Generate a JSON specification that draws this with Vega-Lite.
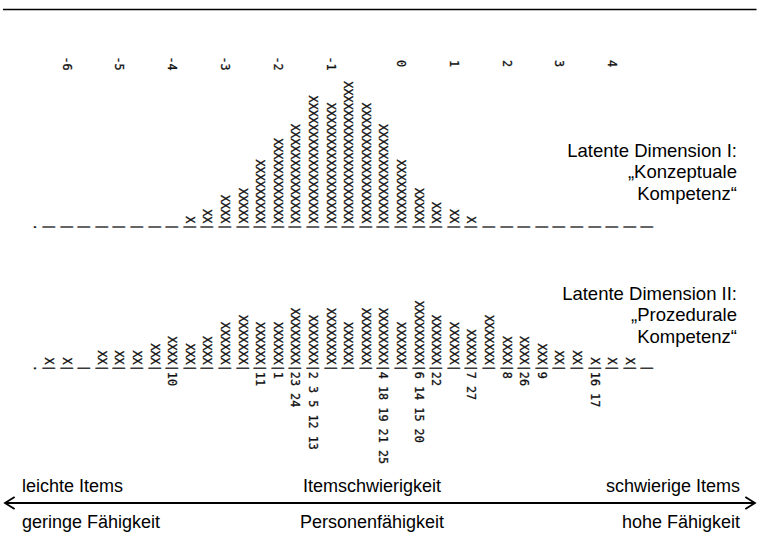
{
  "$schema": "https://vega.github.io/schema/vega-lite/v6.json",
  "width": 759,
  "height": 555,
  "padding": 0,
  "autosize": {"type": "fit", "contains": "padding"},
  "background": "white",
  "config": {"view": {"stroke": null}},
  "datasets": {
    "columns": [
      {"panel": "I", "col": -0.6, "persons": ".", "items": ""},
      {"panel": "I", "col": 0, "persons": "|", "items": ""},
      {"panel": "I", "col": 1, "persons": "|", "items": ""},
      {"panel": "I", "col": 2, "persons": "|", "items": ""},
      {"panel": "I", "col": 3, "persons": "|", "items": ""},
      {"panel": "I", "col": 4, "persons": "|", "items": ""},
      {"panel": "I", "col": 5, "persons": "|", "items": ""},
      {"panel": "I", "col": 6, "persons": "|", "items": ""},
      {"panel": "I", "col": 7, "persons": "|", "items": ""},
      {"panel": "I", "col": 8, "persons": "X|", "items": ""},
      {"panel": "I", "col": 9, "persons": "XX|", "items": ""},
      {"panel": "I", "col": 10, "persons": "XXXX|", "items": ""},
      {"panel": "I", "col": 11, "persons": "XXXXX|", "items": ""},
      {"panel": "I", "col": 12, "persons": "XXXXXXXXX|", "items": ""},
      {"panel": "I", "col": 13, "persons": "XXXXXXXXXXXX|", "items": ""},
      {"panel": "I", "col": 14, "persons": "XXXXXXXXXXXXXX|", "items": ""},
      {"panel": "I", "col": 15, "persons": "XXXXXXXXXXXXXXXXXX|", "items": ""},
      {"panel": "I", "col": 16, "persons": "XXXXXXXXXXXXXXXXX|", "items": ""},
      {"panel": "I", "col": 17, "persons": "XXXXXXXXXXXXXXXXXXXX|", "items": ""},
      {"panel": "I", "col": 18, "persons": "XXXXXXXXXXXXXXXXX|", "items": ""},
      {"panel": "I", "col": 19, "persons": "XXXXXXXXXXXXXX|", "items": ""},
      {"panel": "I", "col": 20, "persons": "XXXXXXXXX|", "items": ""},
      {"panel": "I", "col": 21, "persons": "XXXXX|", "items": ""},
      {"panel": "I", "col": 22, "persons": "XXX|", "items": ""},
      {"panel": "I", "col": 23, "persons": "XX|", "items": ""},
      {"panel": "I", "col": 24, "persons": "X|", "items": ""},
      {"panel": "I", "col": 25, "persons": "|", "items": ""},
      {"panel": "I", "col": 26, "persons": "|", "items": ""},
      {"panel": "I", "col": 27, "persons": "|", "items": ""},
      {"panel": "I", "col": 28, "persons": "|", "items": ""},
      {"panel": "I", "col": 29, "persons": "|", "items": ""},
      {"panel": "I", "col": 30, "persons": "|", "items": ""},
      {"panel": "I", "col": 31, "persons": "|", "items": ""},
      {"panel": "I", "col": 32, "persons": "|", "items": ""},
      {"panel": "I", "col": 33, "persons": "|", "items": ""},
      {"panel": "I", "col": 34, "persons": "|", "items": ""},
      {"panel": "II", "col": -0.6, "persons": ".", "items": ""},
      {"panel": "II", "col": 0, "persons": "X|", "items": ""},
      {"panel": "II", "col": 1, "persons": "X|", "items": ""},
      {"panel": "II", "col": 2, "persons": "|", "items": ""},
      {"panel": "II", "col": 3, "persons": "XX|", "items": ""},
      {"panel": "II", "col": 4, "persons": "XX|", "items": ""},
      {"panel": "II", "col": 5, "persons": "XX|", "items": ""},
      {"panel": "II", "col": 6, "persons": "XXX|", "items": ""},
      {"panel": "II", "col": 7, "persons": "XXXX|", "items": "10"},
      {"panel": "II", "col": 8, "persons": "XXX|", "items": ""},
      {"panel": "II", "col": 9, "persons": "XXXX|", "items": ""},
      {"panel": "II", "col": 10, "persons": "XXXXXX|", "items": ""},
      {"panel": "II", "col": 11, "persons": "XXXXXXX|", "items": ""},
      {"panel": "II", "col": 12, "persons": "XXXXXX|", "items": "11"},
      {"panel": "II", "col": 13, "persons": "XXXXXX|", "items": "1"},
      {"panel": "II", "col": 14, "persons": "XXXXXXXX|", "items": "23 24"},
      {"panel": "II", "col": 15, "persons": "XXXXXXX|", "items": "2 3 5 12 13"},
      {"panel": "II", "col": 16, "persons": "XXXXXXXX|", "items": ""},
      {"panel": "II", "col": 17, "persons": "XXXXXX|", "items": ""},
      {"panel": "II", "col": 18, "persons": "XXXXXXXX|", "items": ""},
      {"panel": "II", "col": 19, "persons": "XXXXXXXX|", "items": "4 18 19 21 25"},
      {"panel": "II", "col": 20, "persons": "XXXXXX|", "items": ""},
      {"panel": "II", "col": 21, "persons": "XXXXXXXXX|", "items": "6 14 15 20"},
      {"panel": "II", "col": 22, "persons": "XXXXXXX|", "items": "22"},
      {"panel": "II", "col": 23, "persons": "XXXXXX|", "items": ""},
      {"panel": "II", "col": 24, "persons": "XXXXX|", "items": "7 27"},
      {"panel": "II", "col": 25, "persons": "XXXXXXX|", "items": ""},
      {"panel": "II", "col": 26, "persons": "XXXX|", "items": "8"},
      {"panel": "II", "col": 27, "persons": "XXXX|", "items": "26"},
      {"panel": "II", "col": 28, "persons": "XXX|", "items": "9"},
      {"panel": "II", "col": 29, "persons": "XX|", "items": ""},
      {"panel": "II", "col": 30, "persons": "XX|", "items": ""},
      {"panel": "II", "col": 31, "persons": "X|", "items": "16 17"},
      {"panel": "II", "col": 32, "persons": "X|", "items": ""},
      {"panel": "II", "col": 33, "persons": "X|", "items": ""},
      {"panel": "II", "col": 34, "persons": "|", "items": ""}
    ],
    "ticks": [
      {"label": "-6", "col": 1},
      {"label": "-5", "col": 4},
      {"label": "-4", "col": 7},
      {"label": "-3", "col": 10},
      {"label": "-2", "col": 13},
      {"label": "-1", "col": 16},
      {"label": "0", "col": 20},
      {"label": "1", "col": 23},
      {"label": "2", "col": 26},
      {"label": "3", "col": 29},
      {"label": "4", "col": 32}
    ],
    "one": [{}]
  },
  "layer": [
    {
      "data": {"name": "columns"},
      "transform": [{"filter": "datum.panel === 'I'"}],
      "mark": {"type": "text", "angle": 90, "align": "right", "baseline": "middle", "font": "DejaVu Sans Mono", "fontSize": 11.8, "color": "#111", "stroke": "#111", "strokeWidth": 0.3},
      "encoding": {
        "x": {"field": "col", "type": "quantitative", "scale": {"domain": [-2.784, 40.341], "nice": false, "zero": false}, "axis": null},
        "y": {"datum": 230.5, "type": "quantitative", "scale": {"domain": [0, 555], "reverse": true, "nice": false, "zero": false}, "axis": null},
        "text": {"field": "persons"}
      }
    },
    {
      "data": {"name": "columns"},
      "transform": [{"filter": "datum.panel === 'II'"}],
      "mark": {"type": "text", "angle": 90, "align": "right", "baseline": "middle", "font": "DejaVu Sans Mono", "fontSize": 11.8, "color": "#111", "stroke": "#111", "strokeWidth": 0.3},
      "encoding": {
        "x": {"field": "col", "type": "quantitative", "scale": {"domain": [-2.784, 40.341], "nice": false, "zero": false}, "axis": null},
        "y": {"datum": 371.8, "type": "quantitative", "scale": {"domain": [0, 555], "reverse": true, "nice": false, "zero": false}, "axis": null},
        "text": {"field": "persons"}
      }
    },
    {
      "data": {"name": "columns"},
      "transform": [{"filter": "datum.panel === 'II' && datum.items !== ''"}],
      "mark": {"type": "text", "angle": 90, "align": "left", "baseline": "middle", "font": "DejaVu Sans Mono", "fontSize": 11.8, "color": "#111", "stroke": "#111", "strokeWidth": 0.3},
      "encoding": {
        "x": {"field": "col", "type": "quantitative", "scale": {"domain": [-2.784, 40.341], "nice": false, "zero": false}, "axis": null},
        "y": {"datum": 371.8, "type": "quantitative", "scale": {"domain": [0, 555], "reverse": true, "nice": false, "zero": false}, "axis": null},
        "text": {"field": "items"}
      }
    },
    {
      "data": {"name": "ticks"},
      "mark": {"type": "text", "angle": 90, "align": "center", "baseline": "middle", "font": "DejaVu Sans Mono", "fontSize": 11.8, "color": "#111", "stroke": "#111", "strokeWidth": 0.3},
      "encoding": {
        "x": {"field": "col", "type": "quantitative", "scale": {"domain": [-2.784, 40.341], "nice": false, "zero": false}, "axis": null},
        "y": {"datum": 63.5, "type": "quantitative", "scale": {"domain": [0, 555], "reverse": true, "nice": false, "zero": false}, "axis": null},
        "text": {"field": "label"}
      }
    },
    {
      "data": {"name": "one"},
      "mark": {"type": "rule", "color": "black", "strokeWidth": 1.5},
      "encoding": {
        "x": {"datum": -2.614, "type": "quantitative", "scale": {"domain": [-2.784, 40.341], "nice": false, "zero": false}, "axis": null},
        "x2": {"datum": 40.2},
        "y": {"datum": 9.5, "type": "quantitative", "scale": {"domain": [0, 555], "reverse": true, "nice": false, "zero": false}, "axis": null}
      }
    },
    {
      "data": {"name": "one"},
      "mark": {"type": "rule", "color": "black", "strokeWidth": 1.8},
      "encoding": {
        "x": {"datum": -2.5, "type": "quantitative", "scale": {"domain": [-2.784, 40.341], "nice": false, "zero": false}, "axis": null},
        "x2": {"datum": 40.11},
        "y": {"datum": 503, "type": "quantitative", "scale": {"domain": [0, 555], "reverse": true, "nice": false, "zero": false}, "axis": null}
      }
    },
    {
      "data": {"name": "one"},
      "mark": {"type": "point", "shape": "M1.6,-1L0,0L1.6,1", "filled": false, "stroke": "black", "strokeWidth": 1.8, "opacity": 1, "size": 144},
      "encoding": {
        "x": {"datum": -2.5, "type": "quantitative", "scale": {"domain": [-2.784, 40.341], "nice": false, "zero": false}, "axis": null},
        "y": {"datum": 503, "type": "quantitative", "scale": {"domain": [0, 555], "reverse": true, "nice": false, "zero": false}, "axis": null}
      }
    },
    {
      "data": {"name": "one"},
      "mark": {"type": "point", "shape": "M-1.6,-1L0,0L-1.6,1", "filled": false, "stroke": "black", "strokeWidth": 1.8, "opacity": 1, "size": 144},
      "encoding": {
        "x": {"datum": 40.11, "type": "quantitative", "scale": {"domain": [-2.784, 40.341], "nice": false, "zero": false}, "axis": null},
        "y": {"datum": 503, "type": "quantitative", "scale": {"domain": [0, 555], "reverse": true, "nice": false, "zero": false}, "axis": null}
      }
    },
    {
      "data": {"name": "one"},
      "mark": {"type": "text", "align": "right", "baseline": "alphabetic", "font": "Liberation Sans", "fontSize": 18.5, "lineHeight": 21.5, "lineBreak": "\n", "color": "black"},
      "encoding": {
        "x": {"datum": 39.09, "type": "quantitative", "scale": {"domain": [-2.784, 40.341], "nice": false, "zero": false}, "axis": null},
        "y": {"datum": 156.5, "type": "quantitative", "scale": {"domain": [0, 555], "reverse": true, "nice": false, "zero": false}, "axis": null},
        "text": {"value": "Latente Dimension I:\n„Konzeptuale\nKompetenz“"}
      }
    },
    {
      "data": {"name": "one"},
      "mark": {"type": "text", "align": "right", "baseline": "alphabetic", "font": "Liberation Sans", "fontSize": 18.5, "lineHeight": 21.5, "lineBreak": "\n", "color": "black"},
      "encoding": {
        "x": {"datum": 39.09, "type": "quantitative", "scale": {"domain": [-2.784, 40.341], "nice": false, "zero": false}, "axis": null},
        "y": {"datum": 299.5, "type": "quantitative", "scale": {"domain": [0, 555], "reverse": true, "nice": false, "zero": false}, "axis": null},
        "text": {"value": "Latente Dimension II:\n„Prozedurale\nKompetenz“"}
      }
    },
    {
      "data": {"name": "one"},
      "mark": {"type": "text", "align": "left", "baseline": "alphabetic", "font": "Liberation Sans", "fontSize": 18, "lineHeight": 36, "lineBreak": "\n", "color": "black"},
      "encoding": {
        "x": {"datum": -1.534, "type": "quantitative", "scale": {"domain": [-2.784, 40.341], "nice": false, "zero": false}, "axis": null},
        "y": {"datum": 491.5, "type": "quantitative", "scale": {"domain": [0, 555], "reverse": true, "nice": false, "zero": false}, "axis": null},
        "text": {"value": "leichte Items\ngeringe Fähigkeit"}
      }
    },
    {
      "data": {"name": "one"},
      "mark": {"type": "text", "align": "center", "baseline": "alphabetic", "font": "Liberation Sans", "fontSize": 18, "lineHeight": 36, "lineBreak": "\n", "color": "black"},
      "encoding": {
        "x": {"datum": 18.35, "type": "quantitative", "scale": {"domain": [-2.784, 40.341], "nice": false, "zero": false}, "axis": null},
        "y": {"datum": 491.5, "type": "quantitative", "scale": {"domain": [0, 555], "reverse": true, "nice": false, "zero": false}, "axis": null},
        "text": {"value": "Itemschwierigkeit\nPersonenfähigkeit"}
      }
    },
    {
      "data": {"name": "one"},
      "mark": {"type": "text", "align": "right", "baseline": "alphabetic", "font": "Liberation Sans", "fontSize": 18, "lineHeight": 36, "lineBreak": "\n", "color": "black"},
      "encoding": {
        "x": {"datum": 39.26, "type": "quantitative", "scale": {"domain": [-2.784, 40.341], "nice": false, "zero": false}, "axis": null},
        "y": {"datum": 491.5, "type": "quantitative", "scale": {"domain": [0, 555], "reverse": true, "nice": false, "zero": false}, "axis": null},
        "text": {"value": "schwierige Items\nhohe Fähigkeit"}
      }
    }
  ]
}
